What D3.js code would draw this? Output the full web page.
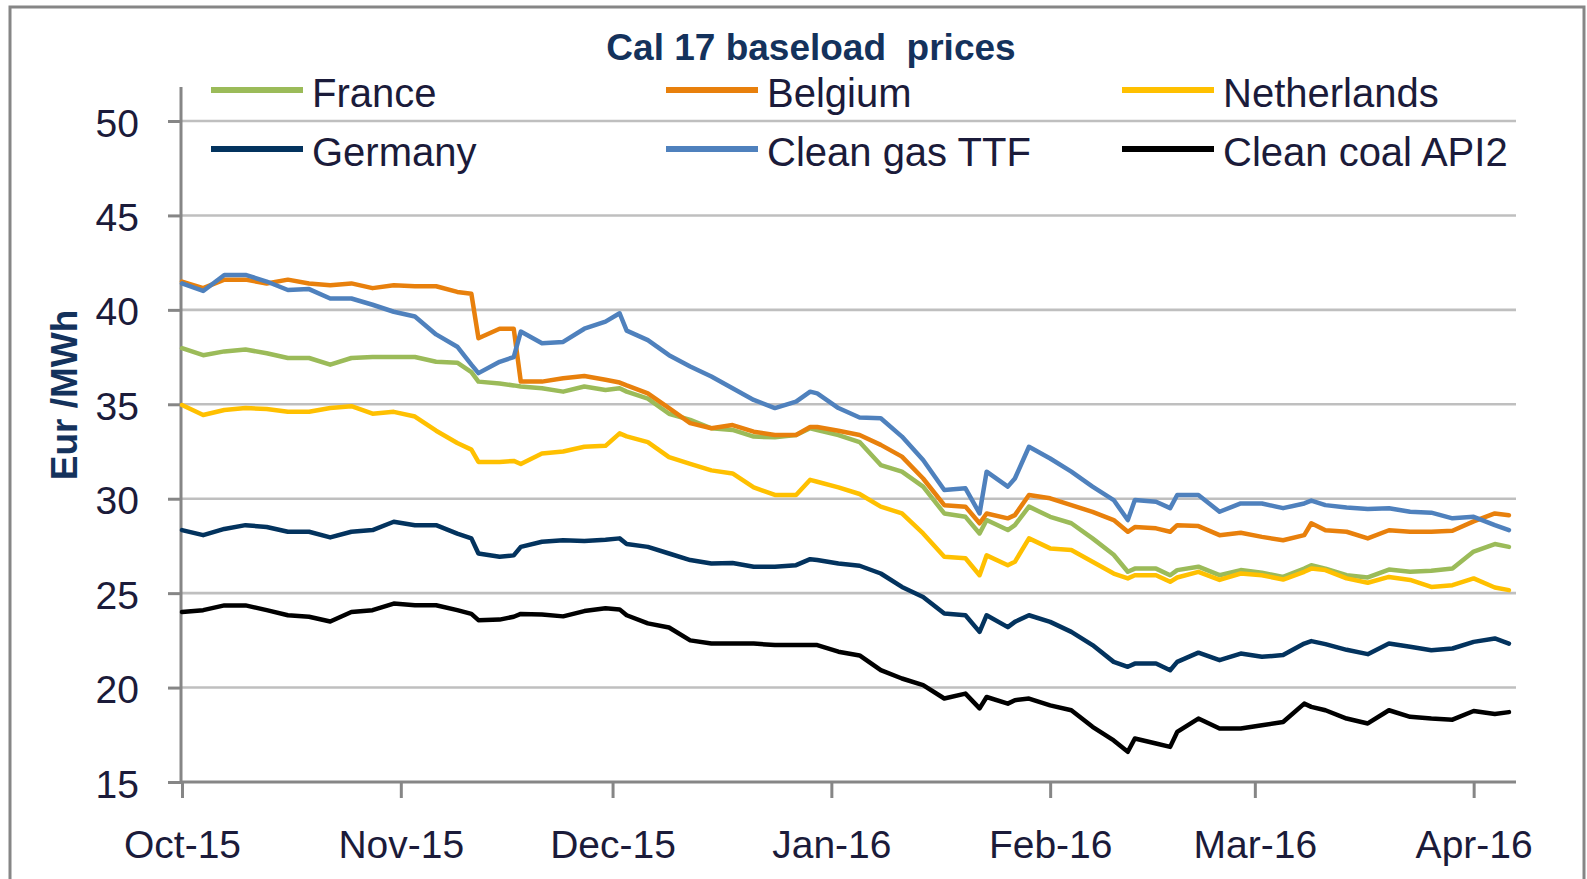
<!DOCTYPE html>
<html>
<head>
<meta charset="utf-8">
<script src="https://cdn.jsdelivr.net/npm/d3@7"></script>
<style>
  body { margin: 0; background: #fff; }
  text { font-family: "Liberation Sans", Arial, sans-serif; }
</style>
</head>
<body>
<script>
var width = 1587,
    height = 879;

var seriesNames = ["France", "Belgium", "Netherlands", "Germany", "Clean gas TTF", "Clean coal API2"];
var seriesColors = ["#9BBB59", "#E8800C", "#FFC000", "#03335E", "#4F81BD", "#000000"];

var dates = ["2015-10-01","2015-10-04","2015-10-07","2015-10-10","2015-10-13","2015-10-16","2015-10-19","2015-10-22","2015-10-25","2015-10-28",
             "2015-10-31","2015-11-03","2015-11-06","2015-11-09","2015-11-11","2015-11-12","2015-11-15","2015-11-17","2015-11-18","2015-11-21",
             "2015-11-24","2015-11-27","2015-11-30","2015-12-02","2015-12-03","2015-12-06","2015-12-09","2015-12-12","2015-12-15","2015-12-18",
             "2015-12-21","2015-12-24","2015-12-27","2015-12-29","2015-12-30","2016-01-02","2016-01-05","2016-01-08","2016-01-11","2016-01-14",
             "2016-01-17","2016-01-20","2016-01-22","2016-01-23","2016-01-26","2016-01-27","2016-01-29","2016-02-01","2016-02-04","2016-02-07",
             "2016-02-10","2016-02-12","2016-02-13","2016-02-16","2016-02-18","2016-02-19","2016-02-22","2016-02-25","2016-02-28","2016-03-02",
             "2016-03-05","2016-03-08","2016-03-09","2016-03-11","2016-03-14","2016-03-17","2016-03-20","2016-03-23","2016-03-26","2016-03-29",
             "2016-04-01","2016-04-04","2016-04-06"];

var france = [37.97,37.6,37.8,37.9,37.7,37.45,37.45,37.1,37.45,37.5,
              37.5,37.5,37.25,37.2,36.7,36.2,36.1,36.0,35.94,35.85,
              35.67,35.94,35.76,35.85,35.67,35.3,34.5,34.17,33.73,33.64,
              33.29,33.25,33.37,33.73,33.64,33.37,33.0,31.78,31.43,30.64,
              29.22,29.04,28.16,28.87,28.34,28.6,29.58,29.04,28.7,27.9,
              27.03,26.13,26.3,26.3,25.95,26.22,26.4,25.95,26.22,26.08,
              25.86,26.3,26.48,26.3,25.95,25.83,26.25,26.13,26.18,26.3,
              27.2,27.6,27.45];

var belgium = [41.5,41.15,41.6,41.6,41.4,41.6,41.4,41.3,41.4,41.15,
               41.3,41.25,41.25,40.95,40.85,38.5,39.0,39.0,36.2,36.2,
               36.38,36.5,36.3,36.15,36.0,35.58,34.8,34.0,33.73,33.9,
               33.55,33.37,33.37,33.8,33.8,33.6,33.37,32.85,32.23,31.07,
               29.66,29.58,28.7,29.22,28.96,29.13,30.2,30.02,29.66,29.3,
               28.87,28.25,28.5,28.43,28.25,28.6,28.55,28.07,28.2,27.98,
               27.8,28.07,28.7,28.33,28.25,27.9,28.33,28.25,28.25,28.3,
               28.8,29.22,29.13];

var netherlands = [34.96,34.43,34.7,34.8,34.75,34.6,34.6,34.8,34.9,34.5,
                   34.6,34.35,33.6,32.95,32.6,31.95,31.95,32.0,31.84,32.4,
                   32.5,32.75,32.8,33.46,33.3,33.0,32.2,31.84,31.5,31.34,
                   30.6,30.2,30.2,31.0,30.9,30.6,30.25,29.58,29.22,28.16,
                   26.93,26.85,25.95,27.0,26.48,26.66,27.9,27.37,27.28,26.66,
                   26.04,25.78,25.95,25.95,25.6,25.83,26.13,25.7,26.04,25.95,
                   25.72,26.13,26.3,26.22,25.78,25.55,25.86,25.7,25.33,25.42,
                   25.78,25.3,25.16];

var germany = [28.34,28.07,28.4,28.6,28.5,28.25,28.25,27.95,28.25,28.34,
               28.78,28.6,28.6,28.15,27.9,27.1,26.93,27.0,27.45,27.72,
               27.8,27.76,27.83,27.9,27.6,27.45,27.1,26.75,26.57,26.6,
               26.4,26.4,26.48,26.8,26.75,26.57,26.45,26.04,25.33,24.8,
               23.92,23.83,22.95,23.83,23.2,23.48,23.83,23.48,22.95,22.25,
               21.36,21.1,21.27,21.27,20.92,21.36,21.85,21.45,21.8,21.63,
               21.72,22.33,22.46,22.3,22.0,21.77,22.33,22.16,21.98,22.07,
               22.42,22.6,22.33];

var cleanGas = [41.4,41.0,41.85,41.85,41.5,41.05,41.1,40.6,40.6,40.27,
                39.9,39.65,38.7,38.05,37.1,36.65,37.25,37.5,38.85,38.23,
                38.3,39.0,39.38,39.82,38.9,38.4,37.6,37.0,36.47,35.85,
                35.23,34.8,35.14,35.67,35.58,34.8,34.3,34.26,33.29,32.05,
                30.46,30.55,29.22,31.43,30.64,31.07,32.75,32.13,31.43,30.64,
                29.93,28.87,29.93,29.84,29.5,30.2,30.2,29.31,29.75,29.75,
                29.5,29.75,29.9,29.66,29.54,29.45,29.5,29.31,29.26,28.96,
                29.04,28.6,28.34];

var cleanCoal = [24.0,24.1,24.35,24.35,24.1,23.83,23.75,23.5,24.0,24.1,
                 24.45,24.36,24.36,24.1,23.9,23.57,23.6,23.75,23.9,23.87,
                 23.77,24.05,24.2,24.14,23.83,23.4,23.18,22.5,22.33,22.33,
                 22.33,22.25,22.25,22.25,22.25,21.9,21.7,20.92,20.48,20.13,
                 19.42,19.68,18.9,19.5,19.15,19.33,19.42,19.06,18.8,17.92,
                 17.2,16.6,17.3,17.04,16.86,17.65,18.36,17.83,17.83,18.0,
                 18.18,19.15,18.98,18.8,18.36,18.1,18.8,18.45,18.36,18.3,
                 18.76,18.6,18.7];

var yTicks = [15, 20, 25, 30, 35, 40, 45, 50];
var monthTicks = ["2015-10-01","2015-11-01","2015-12-01","2016-01-01","2016-02-01","2016-03-01","2016-04-01"];

var seriesValues = [france, belgium, netherlands, germany, cleanGas, cleanCoal];

var parseDate = d3.utcParse("%Y-%m-%d");
var dateObjs = dates.map(parseDate);

var svg = d3.select("body")
            .append("svg")
            .attr("width", width)
            .attr("height", height);

// outer chart frame (bottom edge runs off the picture)
svg.append("rect")
   .attr("x", 10)
   .attr("y", 7)
   .attr("width", 1574)
   .attr("height", 950)
   .attr("fill", "none")
   .attr("stroke", "#868686")
   .attr("stroke-width", 3);

var x = d3.scaleUtc()
          .domain([parseDate("2015-10-01"), parseDate("2016-04-07")])
          .range([182, 1516]);

var y = d3.scaleLinear()
          .domain([15, 50])
          .range([782, 121]);

// gridlines
svg.append("g")
   .selectAll("line")
   .data(yTicks.filter(function(d) { return d > 15; }))
   .enter()
   .append("line")
   .attr("x1", 181)
   .attr("x2", x.range()[1])
   .attr("y1", function(d) { return y(d); })
   .attr("y2", function(d) { return y(d); })
   .attr("stroke", "#BFBFBF")
   .attr("stroke-width", 2.6);

// y axis
var yAxis = svg.append("g")
   .attr("transform", "translate(181,0)")
   .call(d3.axisLeft(y).tickValues(yTicks).tickSize(13).tickSizeOuter(0));

yAxis.select(".domain").remove();
yAxis.selectAll(".tick line").attr("stroke", "#868686").attr("stroke-width", 3);
yAxis.selectAll(".tick text")
     .attr("x", -42)
     .attr("dy", 0)
     .attr("y", 15)
     .attr("fill", "#1b1b3a")
     .style("font-size", "39px")
     .style("font-family", "'Liberation Sans', Arial, sans-serif");

svg.append("line")
   .attr("x1", 181).attr("x2", 181)
   .attr("y1", y(51.8)).attr("y2", y(15) + 1.5)
   .attr("stroke", "#868686")
   .attr("stroke-width", 3);

// x axis
var xAxis = svg.append("g")
   .attr("transform", "translate(0," + y(15) + ")")
   .call(d3.axisBottom(x)
           .tickValues(monthTicks.map(parseDate))
           .tickSize(16)
           .tickSizeOuter(0)
           .tickFormat(d3.utcFormat("%b-%y")));

xAxis.select(".domain").remove();
xAxis.selectAll(".tick line").attr("stroke", "#868686").attr("stroke-width", 3);
xAxis.selectAll(".tick text")
     .attr("y", 76)
     .attr("dy", 0)
     .attr("fill", "#1b1b3a")
     .style("font-size", "39px")
     .style("font-family", "'Liberation Sans', Arial, sans-serif");

svg.append("line")
   .attr("x1", 180).attr("x2", x.range()[1])
   .attr("y1", y(15)).attr("y2", y(15))
   .attr("stroke", "#868686")
   .attr("stroke-width", 3);

// price lines
var valueLine = d3.line()
                  .x(function(d, i) { return x(dateObjs[i]); })
                  .y(function(d) { return y(d); });

svg.append("g")
   .selectAll("path")
   .data(seriesValues)
   .enter()
   .append("path")
   .attr("d", function(d) { return valueLine(d); })
   .attr("fill", "none")
   .attr("stroke", function(d, i) { return seriesColors[i]; })
   .attr("stroke-width", 4.5)
   .attr("stroke-linejoin", "round")
   .attr("stroke-linecap", "round");

// title
svg.append("text")
   .attr("x", 811)
   .attr("y", 60)
   .attr("text-anchor", "middle")
   .attr("fill", "#14325C")
   .style("font-size", "37px")
   .style("font-weight", "bold")
   .style("white-space", "pre")
   .text("Cal 17 baseload  prices");

// y axis title
svg.append("text")
   .attr("transform", "translate(77,395) rotate(-90)")
   .attr("text-anchor", "middle")
   .attr("fill", "#14325C")
   .style("font-size", "37px")
   .style("font-weight", "bold")
   .text("Eur /MWh");

// legend, 3 columns x 2 rows
var legendX = [211, 666, 1122],
    legendY = [90, 149];

var legend = svg.append("g")
   .selectAll("g")
   .data(seriesNames)
   .enter()
   .append("g")
   .attr("transform", function(d, i) {
     return "translate(" + legendX[i % 3] + "," + legendY[Math.floor(i / 3)] + ")";
   });

legend.append("line")
      .attr("x1", 0)
      .attr("x2", 92)
      .attr("stroke", function(d, i) { return seriesColors[i]; })
      .attr("stroke-width", 6);

legend.append("text")
      .attr("x", 101)
      .attr("y", 17)
      .attr("fill", "#1b1b3a")
      .style("font-size", "40px")
      .text(function(d) { return d; });
</script>
</body>
</html>
